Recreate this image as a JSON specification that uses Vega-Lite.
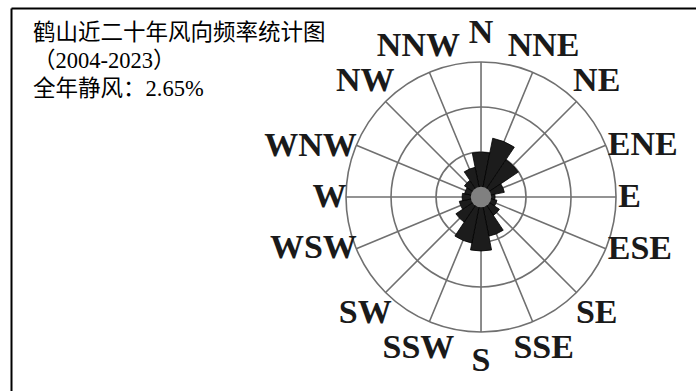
{
  "$schema": "https://vega.github.io/schema/vega-lite/v6.json",
  "width": 685,
  "height": 383,
  "padding": {"left": 11, "top": 8, "right": 0, "bottom": 0},
  "autosize": {"type": "none"},
  "background": "white",
  "config": {"view": {"stroke": null}},
  "title": {
    "text": ["鹤山近二十年风向频率统计图", "（2004-2023）", "全年静风：2.65%"],
    "anchor": "start",
    "frame": "group",
    "orient": "top",
    "offset": -92,
    "dx": 22,
    "font": "Liberation Serif, Noto Sans CJK SC",
    "fontSize": 22.5,
    "fontWeight": "normal",
    "color": "#000",
    "lineHeight": 28
  },
  "datasets": {
    "rose": [
      {"dir": "N", "angle": 0, "freq": 8.3},
      {"dir": "NNE", "angle": 22.5, "freq": 11.1},
      {"dir": "NE", "angle": 45, "freq": 8.3},
      {"dir": "ENE", "angle": 67.5, "freq": 4.4},
      {"dir": "E", "angle": 90, "freq": 2.6},
      {"dir": "ESE", "angle": 112.5, "freq": 3.0},
      {"dir": "SE", "angle": 135, "freq": 4.1},
      {"dir": "SSE", "angle": 157.5, "freq": 7.4},
      {"dir": "S", "angle": 180, "freq": 10.0},
      {"dir": "SSW", "angle": 202.5, "freq": 8.7},
      {"dir": "SW", "angle": 225, "freq": 5.6},
      {"dir": "WSW", "angle": 247.5, "freq": 4.1},
      {"dir": "W", "angle": 270, "freq": 3.5},
      {"dir": "WNW", "angle": 292.5, "freq": 3.1},
      {"dir": "NW", "angle": 315, "freq": 3.7},
      {"dir": "NNW", "angle": 337.5, "freq": 5.6}
    ],
    "rings": [{"r": 8.333}, {"r": 16.667}, {"r": 25}]
  },
  "encoding": {
    "x": {
      "datum": 0, "type": "quantitative",
      "scale": {"domain": [-87.04, 39.81], "nice": false, "zero": false},
      "axis": {"orient": "top", "domain": true, "domainColor": "#000", "domainWidth": 2, "ticks": false, "labels": false, "grid": false, "title": null}
    },
    "y": {
      "datum": 0, "type": "quantitative",
      "scale": {"domain": [-35.93, 35.0], "nice": false, "zero": false},
      "axis": {"orient": "left", "domain": true, "domainColor": "#000", "domainWidth": 2, "ticks": false, "labels": false, "grid": false, "title": null}
    }
  },
  "layer": [
    {
      "data": {"name": "rings"},
      "mark": {"type": "arc", "theta": 6.2832, "filled": false, "color": "#707070", "strokeWidth": 1.6},
      "encoding": {
        "radius": {"field": "r", "type": "quantitative", "stack": false, "scale": {"type": "linear", "domain": [0, 25], "range": [0, 135], "zero": true, "nice": false}}
      }
    },
    {
      "data": {"name": "rose"},
      "mark": {"type": "arc", "filled": false, "color": "#707070", "strokeWidth": 1.6},
      "encoding": {
        "theta": {"field": "angle", "type": "quantitative", "stack": false, "scale": {"domain": [0, 360], "range": [0, 6.283185307179586]}},
        "theta2": {"field": "angle"},
        "radius": {"datum": 25, "type": "quantitative", "stack": false, "scale": {"type": "linear", "domain": [0, 25], "range": [0, 135], "zero": true, "nice": false}},
        "radius2": {"datum": 0}
      }
    },
    {
      "data": {"name": "rose"},
      "mark": {"type": "arc", "thetaOffset": -0.19635, "theta2Offset": 0.19635, "color": "#1c1c1c", "stroke": "#000", "strokeWidth": 0.8},
      "encoding": {
        "theta": {"field": "angle", "type": "quantitative", "stack": false, "scale": {"domain": [0, 360], "range": [0, 6.283185307179586]}},
        "theta2": {"field": "angle"},
        "radius": {"field": "freq", "type": "quantitative", "stack": false, "scale": {"type": "linear", "domain": [0, 25], "range": [0, 135], "zero": true, "nice": false}}
      }
    },
    {
      "data": {"values": [{}]},
      "mark": {"type": "arc", "theta": 6.2832, "color": "#808080"},
      "encoding": {
        "radius": {"datum": 1.9, "type": "quantitative", "stack": false, "scale": {"type": "linear", "domain": [0, 25], "range": [0, 135], "zero": true, "nice": false}}
      }
    },
    {
      "data": {"name": "rose"},
      "transform": [{"filter": {"field": "dir", "oneOf": ["N", "NNE", "NE", "SE", "SSE", "S", "SSW", "SW", "NW", "NNW"]}}],
      "mark": {"type": "text", "font": "Liberation Serif", "fontSize": 34, "fontWeight": "bold", "color": "#1a1a1a", "align": "center", "baseline": "middle"},
      "encoding": {
        "theta": {"field": "angle", "type": "quantitative", "stack": false, "scale": {"domain": [0, 360], "range": [0, 6.283185307179586]}},
        "radius": {"datum": 30.3, "type": "quantitative", "stack": false, "scale": {"type": "linear", "domain": [0, 25], "range": [0, 135], "zero": true, "nice": false}},
        "text": {"field": "dir"}
      }
    },
    {
      "data": {"name": "rose"},
      "transform": [{"filter": {"field": "dir", "oneOf": ["ENE", "E", "ESE"]}}],
      "mark": {"type": "text", "font": "Liberation Serif", "fontSize": 34, "fontWeight": "bold", "color": "#1a1a1a", "align": "left", "baseline": "middle"},
      "encoding": {
        "theta": {"field": "angle", "type": "quantitative", "stack": false, "scale": {"domain": [0, 360], "range": [0, 6.283185307179586]}},
        "radius": {"datum": 25.4, "type": "quantitative", "stack": false, "scale": {"type": "linear", "domain": [0, 25], "range": [0, 135], "zero": true, "nice": false}},
        "text": {"field": "dir"}
      }
    },
    {
      "data": {"name": "rose"},
      "transform": [{"filter": {"field": "dir", "oneOf": ["WNW", "W", "WSW"]}}],
      "mark": {"type": "text", "font": "Liberation Serif", "fontSize": 34, "fontWeight": "bold", "color": "#1a1a1a", "align": "right", "baseline": "middle"},
      "encoding": {
        "theta": {"field": "angle", "type": "quantitative", "stack": false, "scale": {"domain": [0, 360], "range": [0, 6.283185307179586]}},
        "radius": {"datum": 24.9, "type": "quantitative", "stack": false, "scale": {"type": "linear", "domain": [0, 25], "range": [0, 135], "zero": true, "nice": false}},
        "text": {"field": "dir"}
      }
    }
  ]
}
